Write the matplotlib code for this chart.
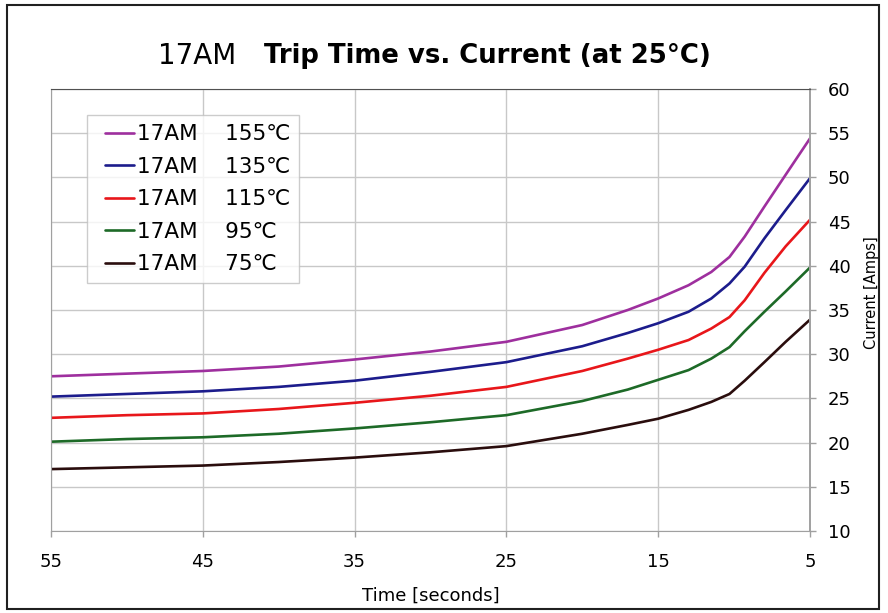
import matplotlib
matplotlib.use("Agg")
from matplotlib import pyplot as plt
from matplotlib.patches import Rectangle
from matplotlib.legend_handler import HandlerLine2D

# trip time in seconds (x axis runs 55 -> 5)
time_s = [55, 50, 45, 40, 35, 30, 25, 20, 17, 15, 13, 11.5, 10.3, 9.3, 8, 6.6, 5]

# current in amps for each ambient temperature curve
amps_155 = [27.5, 27.8, 28.1, 28.6, 29.4, 30.3, 31.4, 33.3, 35.0, 36.3, 37.8, 39.3, 41.0, 43.3, 46.7, 50.3, 54.4]
amps_135 = [25.2, 25.5, 25.8, 26.3, 27.0, 28.0, 29.1, 30.9, 32.4, 33.5, 34.8, 36.3, 38.0, 39.9, 43.1, 46.3, 49.9]
amps_115 = [22.8, 23.1, 23.3, 23.8, 24.5, 25.3, 26.3, 28.1, 29.5, 30.5, 31.6, 32.9, 34.2, 36.1, 39.2, 42.2, 45.2]
amps_95 = [20.1, 20.4, 20.6, 21.0, 21.6, 22.3, 23.1, 24.7, 26.0, 27.1, 28.2, 29.5, 30.8, 32.6, 34.8, 37.1, 39.8]
amps_75 = [17.0, 17.2, 17.4, 17.8, 18.3, 18.9, 19.6, 21.0, 22.0, 22.7, 23.7, 24.6, 25.5, 27.0, 29.1, 31.4, 33.9]

series_labels = ["17AM    155\u2103", "17AM    135\u2103", "17AM    115\u2103",
                 "17AM    95\u2103", "17AM    75\u2103"]
series_values = [amps_155, amps_135, amps_115, amps_95, amps_75]
colors = ["#9e2f9e", "#1c1c8c", "#e8161a", "#1d6a27", "#2a0d0d"]

x_ticks = [55, 45, 35, 25, 15, 5]
y_ticks = [10, 15, 20, 25, 30, 35, 40, 45, 50, 55, 60]

fig = plt.figure(figsize=(8.88, 6.13), dpi=100)
ax = fig.add_axes([0.0574, 0.1338, 0.8547, 0.7210])

lines = []
for vals, lab, col in zip(series_values, series_labels, colors):
    ln, = ax.plot(time_s, vals, color=col, lw=1.9, label=lab,
                  solid_capstyle="round", solid_joinstyle="round")
    lines.append(ln)

ax.set_xlim(55, 5)
ax.set_ylim(10, 60)
ax.set_xticks(x_ticks)
ax.set_yticks(y_ticks)
ax.grid(True, color="#c8c8c8", lw=1.0)
ax.set_axisbelow(True)

ax.yaxis.tick_right()
ax.yaxis.set_label_position("right")
ax.tick_params(axis="both", labelsize=13, colors="#a0a0a0", labelcolor="black",
               length=4, width=1)
ax.tick_params(axis="x", pad=12)
ax.tick_params(axis="y", pad=9)
for side in ["left", "right", "bottom"]:
    ax.spines[side].set_color("#a0a0a0")
ax.spines["right"].set_linewidth(1.4)
ax.spines["top"].set_color("#505050")

ax.set_xlabel("Time [seconds]", fontsize=13, labelpad=11)
ax.set_ylabel("Current [Amps]", fontsize=10.5, ha="center", va="center")
ax.yaxis.set_label_coords(1.081, 0.54)

# legend handle drawn a bit inset from the frame edge
hmap = {ln: HandlerLine2D(xpad=0.45) for ln in lines}
leg = ax.legend(handles=lines, loc="upper left", bbox_to_anchor=(0.047, 0.941),
                fontsize=15.5, frameon=True, fancybox=False, handlelength=1.8,
                handletextpad=0.1, labelspacing=0.58, borderpad=0.42,
                borderaxespad=0, handler_map=hmap)
leg.get_frame().set_edgecolor("#c0c0c0")
leg.get_frame().set_linewidth(1.0)

fig.text(0.266, 0.908, "17AM", fontsize=20, ha="right", va="center")
fig.text(0.297, 0.908, "Trip Time vs. Current (at 25\u00b0C)", fontsize=18.7,
         fontweight="bold", ha="left", va="center")

fig.patches.append(Rectangle((0.008, 0.006), 0.982, 0.986, transform=fig.transFigure,
                             fill=False, edgecolor="#202020", lw=1.5))

fig.savefig("out.png", dpi=100)
